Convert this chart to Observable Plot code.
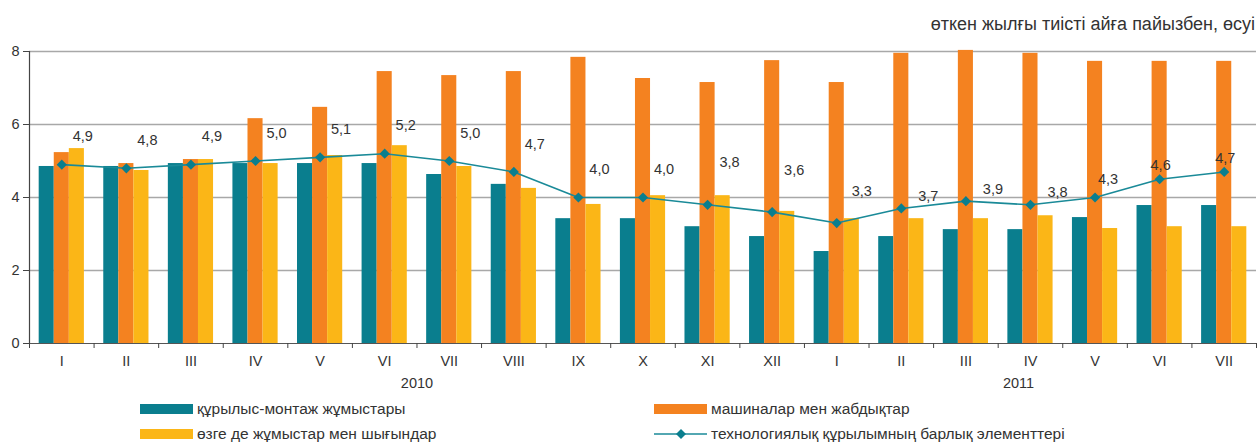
<!DOCTYPE html>
<html>
<head>
<meta charset="utf-8">
<script src="https://cdn.jsdelivr.net/npm/d3@7"></script>
<script src="https://cdn.jsdelivr.net/npm/@observablehq/plot@0.6"></script>
<style>
  body { margin: 0; width: 1258px; height: 445px; overflow: hidden; position: relative; background: #fff;
         font-family: "Liberation Sans", Arial, sans-serif; color: #333; }
  #chart { position: absolute; left: 0; top: 0; }
  #subtitle { position: absolute; right: 3px; top: 14px; font-size: 18px; line-height: 20px; white-space: nowrap; color: #333; }
  .leg { position: absolute; display: flex; align-items: center; font-size: 15.5px; line-height: 18px; white-space: nowrap; color: #333; }
  .sw { width: 53px; height: 10px; margin-right: 4px; }
  .lsw { width: 53px; height: 12px; margin-right: 4px; display: block; }
</style>
</head>
<body>
<div id="subtitle"></div>
<div id="chart"></div>
<script>
// ---- data ----
const months2010 = ["I","II","III","IV","V","VI","VII","VIII","IX","X","XI","XII"];
const months2011 = ["I","II","III","IV","V","VI","VII"];
const yearLabels = ["2010", "2011"];
const seriesNames = [
  "құрылыс-монтаж жұмыстары",
  "машиналар мен жабдықтар",
  "өзге де жұмыстар мен шығындар",
  "технологиялық құрылымның барлық элементтері"
];
const construction = [4.85,4.85,4.93,4.93,4.93,4.93,4.63,4.36,3.42,3.42,3.2,2.93, 2.52,2.93,3.12,3.12,3.45,3.78,3.78];
const machinery    = [5.23,4.93,5.04,6.16,6.47,7.45,7.34,7.45,7.84,7.26,7.15,7.75, 7.15,7.95,8.03,7.95,7.73,7.73,7.73];
const other        = [5.34,4.74,5.04,4.93,5.15,5.42,4.85,4.25,3.81,4.05,4.05,3.62, 3.42,3.42,3.42,3.5,3.15,3.2,3.2];
const total        = [4.9,4.8,4.9,5.0,5.1,5.2,5.0,4.7,4.0,4.0,3.8,3.6, 3.3,3.7,3.9,3.8,4.0,4.5,4.7];
const totalLabels  = ["4,9","4,8","4,9","5,0","5,1","5,2","5,0","4,7","4,0","4,0","3,8","3,6",
                      "3,3","3,7","3,9","3,8","4,3","4,6","4,7"];
const yTicks = [0, 2, 4, 6, 8];
const subtitle = "өткен жылғы тиісті айға пайызбен, өсуі";

// ---- styles ----
const cTeal = "#0a7e8e", cOrange = "#f48220", cYellow = "#fbb617", cLine = "#1a8a98";
const colors = [cTeal, cOrange, cYellow];

const keys = [...months2010.map(m => "2010-" + m), ...months2011.map(m => "2011-" + m)];
const table = keys.map((k, i) => ({
  key: k, month: k.split("-")[1], year: k.split("-")[0],
  construction: construction[i], machinery: machinery[i], other: other[i],
  total: total[i], label: totalLabels[i], i
}));

const W = 1258, H = 400, mL = 29, mR = 2, mT = 51, mB = 57;
const step = (W - mL - mR) / keys.length;
const bw = step * 0.7;
const third = bw / 3;
const fs = 14.5;

// label placement groups (style only)
const labelGroups = [
  {test: i => i < 10, dx: 21, dy: -28},
  {test: i => i >= 10 && i < 12, dx: 22, dy: -42},
  {test: i => i === 12, dx: 25, dy: -32},
  {test: i => i > 12 && i < 16, dx: 27, dy: -12},
  {test: i => i === 16, dx: 13, dy: -18},
  {test: i => i > 16, dx: 1, dy: -14}
];

const chart = Plot.plot({
  width: W, height: H,
  marginTop: mT, marginBottom: mB, marginLeft: mL, marginRight: mR,
  style: {fontFamily: "'Liberation Sans', Arial, sans-serif", fontSize: fs + "px", color: "#333", background: "transparent", overflow: "visible"},
  x: {domain: keys, paddingInner: 0.3, paddingOuter: 0.15, round: false},
  y: {domain: [0, 8]},
  marks: [
    Plot.ruleY(yTicks.filter(d => d > 0), {stroke: "#a8a8a8", strokeWidth: 1.3}),
    Plot.barY(table, {x: "key", y: "construction", fill: colors[0], insetLeft: 0, insetRight: 2 * third}),
    Plot.barY(table, {x: "key", y: "machinery", fill: colors[1], insetLeft: third, insetRight: third}),
    Plot.barY(table, {x: "key", y: "other", fill: colors[2], insetLeft: 2 * third, insetRight: 0}),
    Plot.line(table, {x: "key", y: "total", stroke: cLine, strokeWidth: 1.6}),
    Plot.dot(table, {x: "key", y: "total", symbol: "diamond2", r: 4.6, fill: cTeal, stroke: "none"}),
    ...labelGroups.map(g => Plot.text(table, {filter: d => g.test(d.i), x: "key", y: "total", text: "label", dx: g.dx, dy: g.dy, fontSize: fs, fill: "#333"})),
    Plot.ruleY([0], {stroke: "#555", strokeWidth: 1.2}),
    Plot.ruleX([keys[0]], {x: d => d, y1: 0, y2: 8, dx: -step / 2, stroke: "#444", strokeWidth: 1.2}),
    Plot.axisY({ticks: yTicks, tickSize: 6, tickPadding: 4, fontSize: fs, stroke: "#444", label: null}),
    Plot.axisX({ticks: keys, tickSize: 5, tickFormat: () => "", dx: -step / 2, stroke: "#444", label: null}),
    Plot.axisX({ticks: [keys[keys.length - 1]], tickSize: 5, tickFormat: () => "", dx: step / 2, stroke: "#444", label: null}),
    Plot.axisX({ticks: keys, tickSize: 0, tickPadding: 12, tickFormat: k => k.split("-")[1], fontSize: fs, label: null}),
    Plot.text([yearLabels[0]], {x: () => "2010-VI", text: d => d, frameAnchor: "bottom", dx: step / 2, dy: 44, fontSize: fs, fill: "#333"}),
    Plot.text([yearLabels[1]], {x: () => "2011-IV", text: d => d, frameAnchor: "bottom", dx: -12, dy: 44, fontSize: fs, fill: "#333"})
  ]
});
document.getElementById("chart").appendChild(chart);
document.getElementById("subtitle").textContent = subtitle;

// ---- legend ----
const legendItems = [
  {name: seriesNames[0], color: colors[0], left: 140, top: 400, type: "bar"},
  {name: seriesNames[1], color: colors[1], left: 654, top: 400, type: "bar"},
  {name: seriesNames[2], color: colors[2], left: 140, top: 425, type: "bar"},
  {name: seriesNames[3], color: cLine, left: 654, top: 425, type: "line"}
];
for (const it of legendItems) {
  const div = document.createElement("div");
  div.className = "leg";
  div.style.left = it.left + "px";
  div.style.top = it.top + "px";
  if (it.type === "bar") {
    const sw = document.createElement("span");
    sw.className = "sw";
    sw.style.background = it.color;
    div.appendChild(sw);
  } else {
    const ns = "http://www.w3.org/2000/svg";
    const svg = document.createElementNS(ns, "svg");
    svg.setAttribute("class", "lsw");
    svg.setAttribute("width", 53); svg.setAttribute("height", 12);
    const ln = document.createElementNS(ns, "line");
    ln.setAttribute("x1", 0); ln.setAttribute("x2", 53); ln.setAttribute("y1", 6); ln.setAttribute("y2", 6);
    ln.setAttribute("stroke", it.color); ln.setAttribute("stroke-width", 1.6);
    svg.appendChild(ln);
    const p = document.createElementNS(ns, "path");
    p.setAttribute("d", d3.symbol(d3.symbolDiamond2, 64)());
    p.setAttribute("transform", "translate(27,6)");
    p.setAttribute("fill", cTeal);
    svg.appendChild(p);
    div.appendChild(svg);
  }
  const t = document.createElement("span");
  t.textContent = it.name;
  div.appendChild(t);
  document.body.appendChild(div);
}
</script>
</body>
</html>
